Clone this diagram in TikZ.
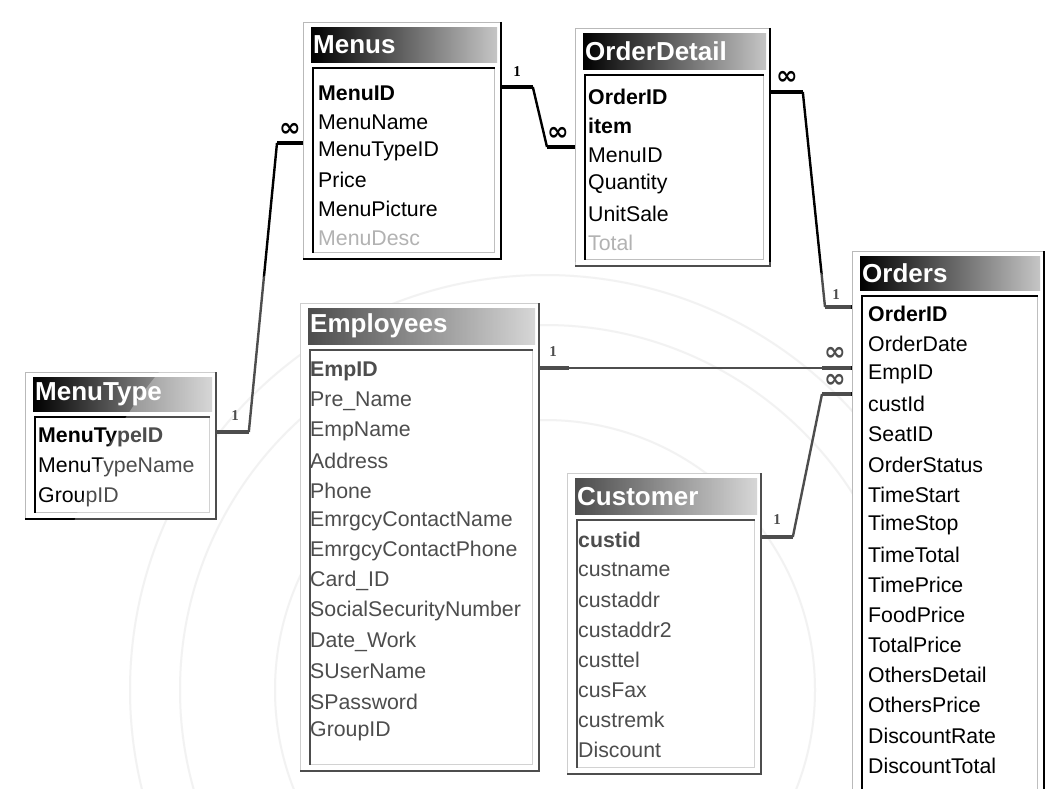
\documentclass[tikz,border=0pt]{standalone}
\usepackage{fontspec}
\setmainfont{Liberation Sans}
\newfontfamily\infsym{DejaVu Sans}
\newfontfamily\labserif{Liberation Serif}
\usetikzlibrary{calc}

\tikzset{
  winframe/.style={draw=gray!55, line width=0.8pt, anchor=north west, inner sep=0pt, fill=white},
  titlebar/.style={anchor=north west, left color=black, right color=gray!45, text=white,
    inner xsep=2pt, inner ysep=0pt, align=left, font=\fontsize{26}{26}\selectfont\bfseries},
  listbox/.style={anchor=north west, draw=gray!50, line width=0.8pt, inner sep=0pt},
  fieldtext/.style={anchor=west, inner sep=0pt, font=\fontsize{21.3}{21.3}\selectfont},
  keyfield/.style={fieldtext, font=\fontsize{21.3}{21.3}\selectfont\bfseries},
  dimfield/.style={fieldtext, text=gray!60},
  rel/.style={line width=3.2pt, line join=round},
  slant/.style={line width=2.4pt},
  thinrel/.style={line width=1.5pt},
  onemark/.style={font=\labserif\fontsize{15}{15}\selectfont\bfseries, inner sep=0pt},
  manymark/.style={font=\infsym\fontsize{26}{26}\selectfont\bfseries, inner sep=0pt},
  sealring/.style={draw=gray!14, line width=2pt},
}

% table window: name, x1, y1, x2, y2, bottom of title bar, title
\newcommand\dbtable[7]{%
  \pgfmathsetmacro\tbw{#4-#2}\pgfmathsetmacro\tbh{#5-#3}%
  \pgfmathsetmacro\ttw{#4-#2-15}\pgfmathsetmacro\tth{#6-#3-5}%
  \pgfmathsetmacro\lbw{#4-#2-16}\pgfmathsetmacro\lbh{#5-#6-12}%
  \node[winframe, minimum width=\tbw pt, minimum height=\tbh pt] (#1) at (#2,#3) {};
  \draw[line width=2pt] (#1.north east) -- (#1.south east) -- (#1.south west);
  \node[titlebar, text width=\ttw pt, minimum height=\tth pt] (#1-title) at (#2+8,#3+5) {#7};
  \node[listbox, minimum width=\lbw pt, minimum height=\lbh pt] (#1-list) at (#2+10,#6+6) {};
  \draw[line width=2pt] (#1-list.south west) -- (#1-list.north west) -- (#1-list.north east);
}

% remaining fields of a table: table, x, y of key row, row step, names
\newcommand\fieldlist[5]{%
  \foreach \f [count=\i from 1] in {#5}
    \node[fieldtext] (#1-f\i) at (#2, #3+#4*\i) {\f};
}

\begin{document}
\begin{tikzpicture}[x=1pt, y=-1pt]
\useasboundingbox (0,0) rectangle (1046,789);
\fill[white] (0,0) rectangle (1046,789);

% faint seal rings in the background
\draw[sealring] (545,690) circle (415);
\draw[sealring] (545,690) circle (365);
\draw[sealring] (545,690) circle (270);

% ---------------- tables ----------------
\dbtable{menus}{303}{22}{500}{258}{62}{Menus}
\node[keyfield] (menus-key) at (318,93) {MenuID};
\fieldlist{menus}{318}{93}{29}{MenuName,MenuTypeID,Price,MenuPicture}
\node[dimfield] (menus-desc) at (318,238) {MenuDesc};

\dbtable{odetail}{575}{28}{769}{265}{69}{OrderDetail}
\node[keyfield] (odetail-key) at (588,97) {OrderID};
\node[keyfield] (odetail-item) at (588,126) {item};
\fieldlist{odetail}{588}{126}{29.2}{MenuID,Quantity,UnitSale}
\node[dimfield] (odetail-total) at (588,243) {Total};

\dbtable{mtype}{25}{372}{215}{518}{411}{MenuType}
\node[keyfield] (mtype-key) at (38,437) {MenuTypeID};
\fieldlist{mtype}{38}{437}{30}{MenuTypeName,GroupID}

\dbtable{emp}{300}{303}{538}{770}{344}{Employees}
\node[keyfield] (emp-key) at (310,371) {EmpID};
\fieldlist{emp}{310}{371}{30.05}{Pre\_Name,EmpName,Address,Phone,EmrgcyContactName,EmrgcyContactPhone,Card\_ID,SocialSecurityNumber,Date\_Work,SUserName,SPassword,GroupID}

\dbtable{cust}{567}{473}{760}{773}{514}{Customer}
\node[keyfield] (cust-key) at (578,540) {custid};
\fieldlist{cust}{578}{540}{30}{custname,custaddr,custaddr2,custtel,cusFax,custremk,Discount}

\dbtable{orders}{852}{251}{1043}{800}{290}{Orders}
\node[keyfield] (orders-key) at (868,314) {OrderID};
\fieldlist{orders}{868}{314}{30.1}{OrderDate,EmpID,custId,SeatID,OrderStatus,TimeStart,TimeStop,TimeTotal,TimePrice,FoodPrice,TotalPrice,OthersDetail,OthersPrice,DiscountRate,DiscountTotal}

% ---------------- relationships ----------------
% MenuType 1 -- many Menus
\draw[rel] (mtype.east |- 0,432) -- ++(33,0) coordinate (r1a);
\draw[slant] (r1a) -- ($(menus.west |- 0,143)+(-26,0)$) coordinate (r1b);
\draw[rel] (r1b) -- (menus.west |- 0,143);
\node[onemark] (r1one) at (235,416) {1};
\node[manymark] (r1many) at (290,130) {∞};

% Menus 1 -- many OrderDetail
\draw[rel] (menus.east |- 0,87) -- ++(32,0) coordinate (r2a);
\draw[slant] (r2a) -- ($(odetail.west |- 0,147)+(-28,0)$) coordinate (r2b);
\draw[rel] (r2b) -- (odetail.west |- 0,147);
\node[onemark] (r2one) at (517,72) {1};
\node[manymark] (r2many) at (558,134) {∞};

% Orders 1 -- many OrderDetail
\draw[rel] (odetail.east |- 0,92) -- ++(33,0) coordinate (r3a);
\draw[slant] (r3a) -- ($(orders.west |- 0,307)+(-27,0)$) coordinate (r3b);
\draw[rel] (r3b) -- (orders.west |- 0,307);
\node[manymark] (r3many) at (787,78) {∞};
\node[onemark] (r3one) at (836,295) {1};

% Employees 1 -- many Orders
\draw[thinrel] (emp.east |- 0,368) -- (orders.west |- 0,368);
\draw[rel] (emp.east |- 0,368) -- ++(30,0);
\draw[rel] (orders.west |- 0,368) -- ++(-30,0);
\node[onemark] (r4one) at (553,352) {1};
\node[manymark] (r4many) at (835,354) {∞};

% Customer 1 -- many Orders
\draw[rel] (cust.east |- 0,537) -- ++(32,0) coordinate (r5a);
\draw[slant] (r5a) -- ($(orders.west |- 0,394)+(-30,0)$) coordinate (r5b);
\draw[rel] (r5b) -- (orders.west |- 0,394);
\node[onemark] (r5one) at (777,520) {1};
\node[manymark] (r5many) at (835,381) {∞};

% seal tint over the lower middle of the sheet, below the top tables and left of Orders
\begin{scope}
  \clip (0,262) rectangle (851,789);
  \fill[white, opacity=0.3] (545,690) circle (500);
\end{scope}
\end{tikzpicture}
\end{document}
